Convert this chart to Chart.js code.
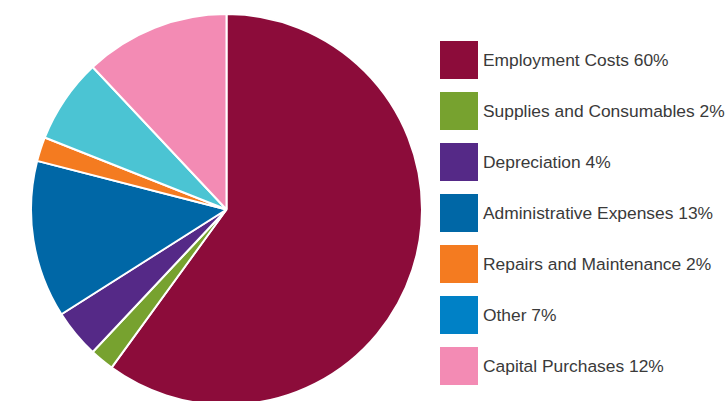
<!DOCTYPE html>
<html>
<head>
<meta charset="utf-8">
<script src="https://cdn.jsdelivr.net/npm/chart.js@4.4.1/dist/chart.umd.min.js"></script>
<style>
  html, body { margin: 0; padding: 0; background: #fff; width: 725px; height: 401px; overflow: hidden; }
  #wrap { position: relative; width: 725px; height: 401px; }
  #pie { position: absolute; left: 30px; top: 13px; }
  #legend { position: absolute; left: 440px; top: 41px; margin: 0; padding: 0; list-style: none;
            font-family: "Liberation Sans", Arial, sans-serif; font-size: 17.4px; color: #3a3a3a; white-space: nowrap; }
  #legend li { display: flex; align-items: center; height: 38px; margin-bottom: 13px; }
  #legend .sw { width: 38px; height: 38px; margin-right: 5px; flex: none; }
</style>
</head>
<body>
<div id="wrap">
  <canvas id="pie" width="393" height="393"></canvas>
  <ul id="legend"></ul>
</div>
<script>
// Expenditure breakdown, percent of total
const categories = [
  "Employment Costs",
  "Supplies and Consumables",
  "Depreciation",
  "Administrative Expenses",
  "Repairs and Maintenance",
  "Other",
  "Capital Purchases"
];
const shares = [60, 2, 4, 13, 2, 7, 12];
const sliceColors = ["#8c0c3a", "#77a22f", "#552987", "#0067a6", "#f47b20", "#4bc4d3", "#f38bb4"];
const keyColors   = ["#8c0c3a", "#77a22f", "#552987", "#0067a6", "#f47b20", "#0081c6", "#f38bb4"];

new Chart(document.getElementById("pie"), {
  type: "pie",
  data: {
    labels: categories,
    datasets: [{
      data: shares,
      backgroundColor: sliceColors,
      borderColor: "#ffffff",
      borderWidth: 2,
      hoverOffset: 0
    }]
  },
  options: {
    responsive: false,
    animation: false,
    layout: { padding: 0 },
    plugins: {
      legend: { display: false },
      tooltip: { enabled: false }
    }
  }
});

// Key listing each category with its share
const legend = document.getElementById("legend");
categories.forEach((name, i) => {
  const li = document.createElement("li");
  const sw = document.createElement("span");
  sw.className = "sw";
  sw.style.background = keyColors[i];
  li.appendChild(sw);
  li.appendChild(document.createTextNode(name + " " + shares[i] + "%"));
  legend.appendChild(li);
});
</script>
</body>
</html>
